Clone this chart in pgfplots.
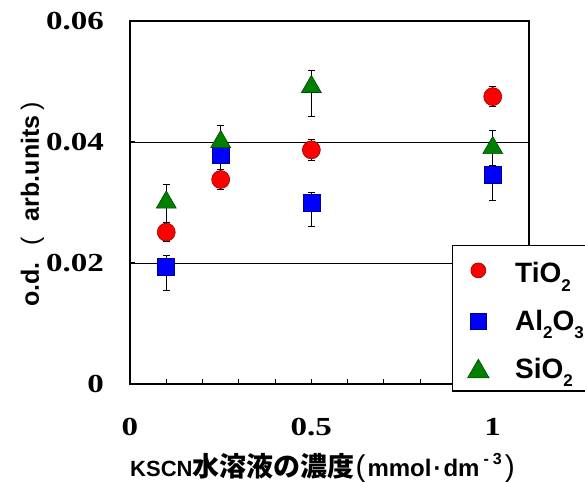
\documentclass[border=0pt]{standalone}
\usepackage{fontspec}
\usepackage{graphicx}
\usepackage{pgfplots}
\pgfplotsset{compat=1.18}
\newfontfamily\arial{Liberation Sans}
\newfontfamily\tnr{Liberation Serif}
\newfontfamily\cjk{Noto Sans CJK JP}
\definecolor{tiFill}{RGB}{255,0,0}
\definecolor{tiLine}{RGB}{150,0,0}
\definecolor{alFill}{RGB}{0,0,255}
\definecolor{alLine}{RGB}{0,0,140}
\definecolor{siFill}{RGB}{0,128,0}
\definecolor{siLine}{RGB}{0,70,0}
\newcommand\sub[1]{\raisebox{-8.4pt}{\fontsize{17}{17}\selectfont #1}}
\newcommand\tl[1]{\scalebox{1.27}[1]{\tnr\bfseries\fontsize{26}{28}\selectfont #1}}
\begin{document}
\begin{tikzpicture}
\begin{axis}[
  at={(0,0)}, anchor=south west,
  scale only axis, width=399pt, height=363pt,
  xmin=0, xmax=1.1, ymin=0, ymax=0.06,
  scaled y ticks=false, scaled x ticks=false,
  xtick={0,0.5,1}, xticklabels={\tl{0},\tl{0.5},\tl{1}},
  minor xtick={0.1,0.2,0.3,0.4,0.6,0.7,0.8,0.9},
  ytick={0,0.02,0.04,0.06}, yticklabels={\tl{0},\tl{0.02},\tl{0.04},\tl{0.06}},
  xtick pos=bottom, ytick pos=left,
  tick align=inside,
  major tick length=5pt, minor tick length=5pt,
  every tick/.style={black, line width=1pt},
  ymajorgrids, grid style={black, line width=0.8pt},
  axis line style={line width=1.6pt},
  ticklabel style={inner sep=0pt},
  xticklabel style={anchor=north, yshift=-34pt},
  yticklabel style={anchor=east, xshift=-26pt},
  xlabel={\arial\bfseries\fontsize{22}{24}\selectfont KSCN%
    {\cjk\bfseries\fontsize{27}{28}\selectfont 水溶液の濃度}%
    \hspace{1pt}{\mdseries\fontsize{30}{30}\selectfont (}\hspace{2pt}%
    {\fontsize{24}{24}\selectfont mmol\hspace{2pt}·\hspace{2pt}dm}\hspace{4pt}%
    \raisebox{12pt}{\fontsize{16}{16}\selectfont -\hspace{4pt}3}\hspace{3pt}%
    {\mdseries\fontsize{30}{30}\selectfont )}},
  xlabel style={at={(axis description cs:0.0,-0.2535)}, anchor=base west, inner sep=0pt},
  ylabel={\arial\bfseries\fontsize{25}{26}\selectfont o.d.\hspace{17pt}{\mdseries (}\hspace{16pt}arb.units\hspace{5pt}{\mdseries )}},
  ylabel style={at={(axis description cs:-0.2281,0.2121)}, anchor=base west, inner sep=0pt},
  legend style={at={(axis description cs:0.8063,-0.0207)}, anchor=south west,
    draw=black, line width=1.6pt, fill=white,
    font=\arial\bfseries\fontsize{28}{30}\selectfont,
    inner xsep=15pt, inner ysep=11pt, row sep=26pt, column sep=26pt,
    nodes={inner sep=0pt}},
  legend cell align=left,
]
\addplot[only marks, mark=*, mark size=9pt,
  mark options={fill=tiFill, draw=tiLine, line width=0.6pt},
  legend image post style={mark size=7.5pt},
  error bars/.cd, y dir=both, y explicit,
  error bar style={black, line width=0.9pt},
  error mark options={black, rotate=90, mark size=3.5pt, line width=0.9pt}]
coordinates {
  (0.1,0.0251) +- (0,0.0016)
  (0.25,0.0338) +- (0,0.0017)
  (0.5,0.0387) +- (0,0.0018)
  (1,0.0475) +- (0,0.0017)
};
\addlegendentry{\rule{0pt}{26pt}TiO\sub{2}}
\addplot[only marks, mark=square*, mark size=8.5pt,
  mark options={fill=alFill, draw=alLine, line width=0.6pt},
  legend image post style={mark size=7.8pt},
  error bars/.cd, y dir=both, y explicit,
  error bar style={black, line width=0.9pt},
  error mark options={black, rotate=90, mark size=3.5pt, line width=0.9pt}]
coordinates {
  (0.1,0.0194) += (0,0.0018) -= (0,0.0039)
  (0.25,0.0379) += (0,0.0017) -= (0,0.0028)
  (0.5,0.0300) += (0,0.0017) -= (0,0.0040)
  (1,0.0345) += (0,0.0017) -= (0,0.0041)
};
\addlegendentry{Al\sub{2}O\sub{3}}
\addplot[only marks, mark=triangle*, mark size=11.5pt,
  mark options={fill=siFill, draw=siLine, line width=0.6pt, yshift=-2.875pt},
  legend image post style={mark size=12.5pt},
  error bars/.cd, y dir=both, y explicit,
  error bar style={black, line width=0.9pt},
  error mark options={black, rotate=90, mark size=3.5pt, line width=0.9pt}]
coordinates {
  (0.1,0.0305) += (0,0.0025) -= (0,0.0045)
  (0.25,0.0405) += (0,0.0023) -= (0,0.0040)
  (0.5,0.0496) += (0,0.0023) -= (0,0.0054)
  (1,0.0395) += (0,0.0024) -= (0,0.0033)
};
\addlegendentry{SiO\sub{2}}
\end{axis}
\pgfresetboundingbox
\useasboundingbox (-130pt,-97pt) rectangle (455pt,384pt);
\end{tikzpicture}
\end{document}
